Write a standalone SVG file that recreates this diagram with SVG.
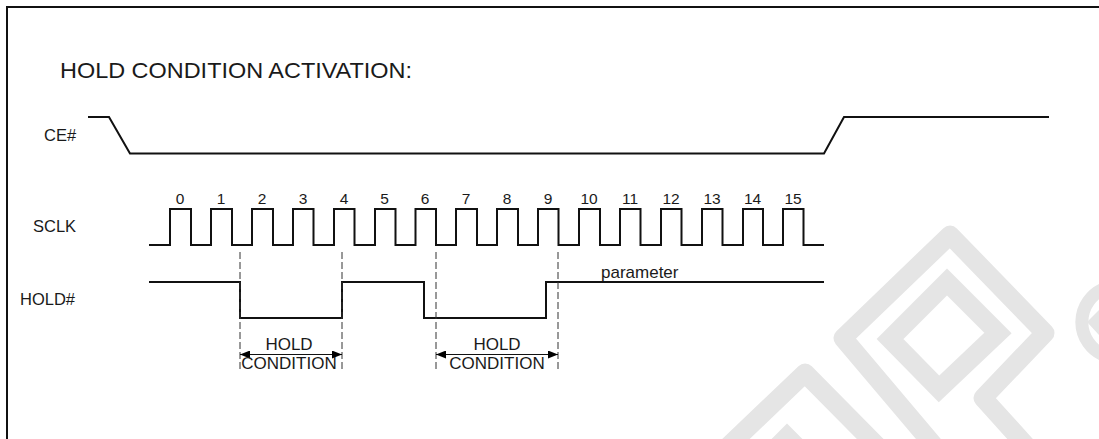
<svg xmlns="http://www.w3.org/2000/svg" width="1099" height="439" viewBox="0 0 1099 439">
<style>
.wm{fill:none;stroke:#e5e5e5;stroke-width:19;stroke-linejoin:round}
.wm2{fill:none;stroke:#e5e5e5;stroke-width:19;stroke-linejoin:miter}
.sig{fill:none;stroke:#111;stroke-width:2;stroke-linejoin:miter}
.dash{fill:none;stroke:#333;stroke-width:1;stroke-dasharray:7 3}
.arr{fill:none;stroke:#111;stroke-width:1;marker-start:url(#ah);marker-end:url(#ah)}
text{font-family:"Liberation Sans",Arial,sans-serif;fill:#1a1a1a}
.lbl{font-size:16.5px}
.num{font-size:15.5px;text-anchor:middle}
.cond{font-size:17px;text-anchor:middle}
</style>
<defs>
<marker id="ah" markerUnits="userSpaceOnUse" markerWidth="10" markerHeight="8" refX="10" refY="4" orient="auto-start-reverse"><path d="M0 0L10 4L0 8Z" fill="#000"/></marker>
</defs>
<rect width="1099" height="439" fill="#fff"/>
<g id="watermark">
<path class="wm" d="M947 461L843 338L950 235L1045 333L983 398L1030 450"/>
<path class="wm2" d="M947 282L998 333L939 389L890 339Z"/>
<path class="wm" d="M715 459L805 373L890 459"/>
<path class="wm2" d="M765 459L787 437L809 459"/>
<path d="M1106 288A36 36 0 0 0 1106 356" fill="none" stroke="#e5e5e5" stroke-width="13"/>
<path d="M1087 322L1099 310V335Z" fill="#e5e5e5"/>
</g>
<path id="frame" d="M7 439V7H1099" fill="none" stroke="#111" stroke-width="2"/>
<text id="title" x="60" y="78" font-size="22.500" textLength="352" lengthAdjust="spacingAndGlyphs">HOLD CONDITION ACTIVATION:</text>
<g id="ce">
<text class="lbl" x="44" y="141">CE#</text>
<path class="sig" d="M88 117H109L130 153.500H824L844 117H1049"/>
</g>
<g id="sclk">
<text class="lbl" x="33" y="232">SCLK</text>
<path class="sig" d="M149 245H170V209H191V245H211V209H232V245H252V209H273V245H293V209H313.500V245H334V209H354.500V245H375V209H395.500V245H415.500V209H436V245H456V209H477V245H497V209H518V245H538V209H558.500V245H579V209H600V245H620V209H640.500V245H661V209H681.500V245H702V209H722.500V245H743V209H763V245H783V209H803.500V245H824"/>
<g class="num-labels">
<text class="num" x="180" y="204">0</text>
<text class="num" x="221" y="204">1</text>
<text class="num" x="262" y="204">2</text>
<text class="num" x="303" y="204">3</text>
<text class="num" x="344" y="204">4</text>
<text class="num" x="384.500" y="204">5</text>
<text class="num" x="425" y="204">6</text>
<text class="num" x="466" y="204">7</text>
<text class="num" x="507" y="204">8</text>
<text class="num" x="548" y="204">9</text>
<text class="num" x="589" y="204">10</text>
<text class="num" x="630" y="204">11</text>
<text class="num" x="671" y="204">12</text>
<text class="num" x="712" y="204">13</text>
<text class="num" x="752.500" y="204">14</text>
<text class="num" x="793" y="204">15</text>
</g>
</g>
<g id="hold">
<text class="lbl" x="20" y="305">HOLD#</text>
<path class="sig" d="M149 282H240V318H342V282H424V318H546V282H824"/>
<text x="601" y="278" font-size="17">parameter</text>
</g>
<g id="connectors">
<path class="dash" d="M240 252V370M342 252V370M436 252V370M558 252V370"/>
<path class="arr" d="M240 354.500H342"/>
<path class="arr" d="M436 354.500H558"/>
</g>
<g id="hold-condition-1">
<text class="cond" x="289" y="350">HOLD</text>
<text class="cond" x="289" y="369">CONDITION</text>
</g>
<g id="hold-condition-2">
<text class="cond" x="497" y="350">HOLD</text>
<text class="cond" x="497" y="369">CONDITION</text>
</g>
</svg>
